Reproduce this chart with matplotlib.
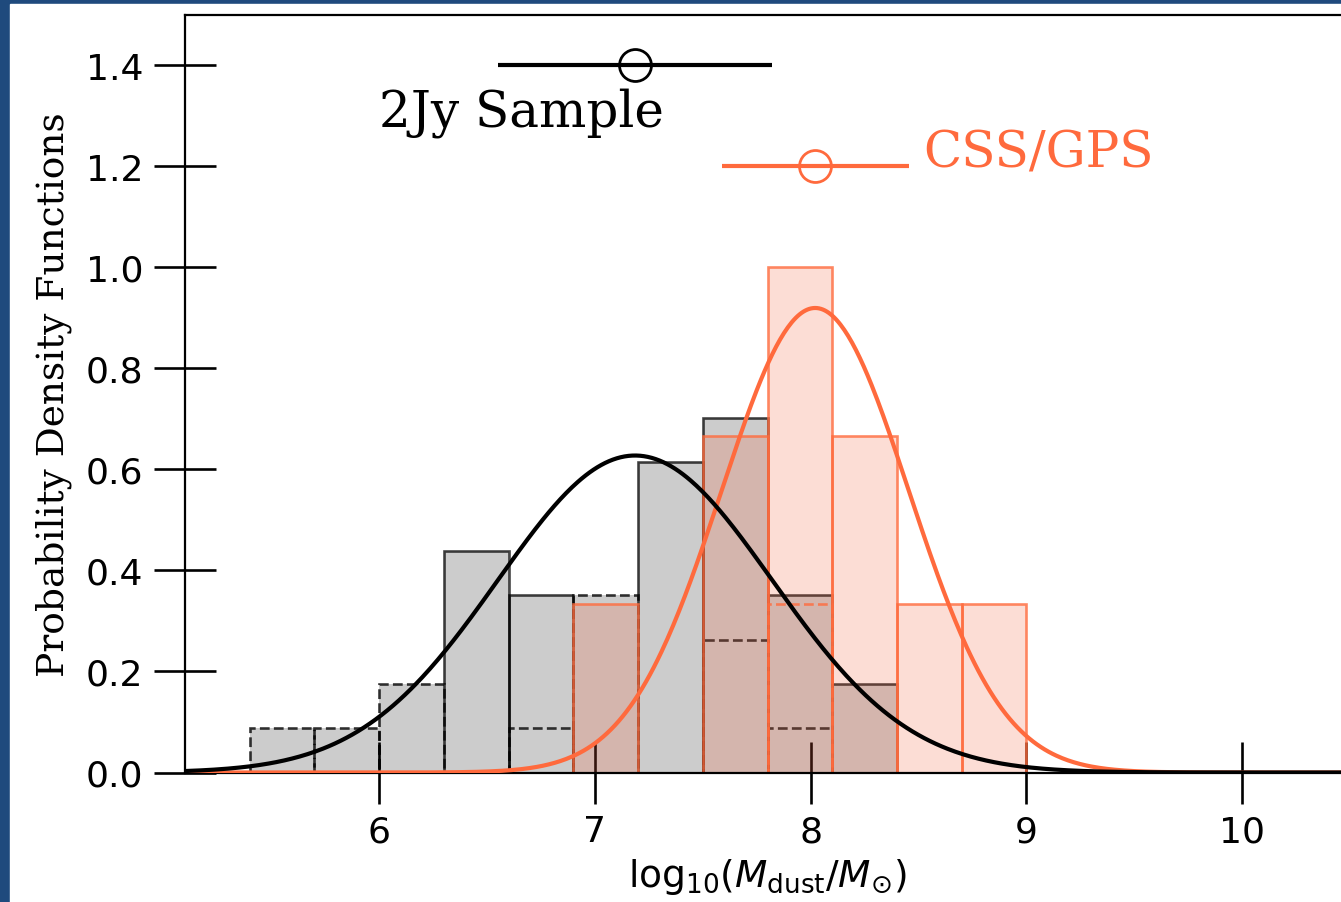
import matplotlib
matplotlib.use('Agg')
import matplotlib.pyplot as plt
import numpy as np
from matplotlib.patches import Rectangle

plt.rcParams['mathtext.fontset'] = 'dejavusans'

# ── data ──────────────────────────────────────────────────────────────────────
BIN_W = 0.3

bins_2jy          = [5.4, 5.7, 6.0, 6.3, 6.6, 6.9, 7.2, 7.5, 7.8, 8.1]
counts_2jy        = [1, 1, 2, 5, 4, 4, 7, 8, 4, 2]
counts_2jy_dashed = [1, 1, 2, 0, 1, 4, 0, 3, 1, 0]

bins_css          = [6.9, 7.2, 7.5, 7.8, 8.1, 8.4, 8.7]
counts_css        = [1, 0, 2, 3, 2, 1, 1]
counts_css_dashed = [0, 0, 0, 1, 0, 0, 0]

mean_2jy, sigma_2jy = 7.186, 0.636
mean_css, sigma_css = 8.021, 0.434

ERR_Y_2JY = 1.4
ERR_Y_CSS = 1.2

ORANGE = '#FF6A3D'
GREY   = '#CCCCCC'
EDGE_W = 1.9


def _density(counts):
    c = np.asarray(counts, dtype=float)
    return c / (np.asarray(counts).sum() * BIN_W)


def _norm_pdf(x, mu, sig):
    return np.exp(-0.5 * ((x - mu) / sig) ** 2) / (sig * np.sqrt(2 * np.pi))


fig = plt.figure(figsize=(13.41, 9.03), dpi=100, facecolor='#1F4A7D')
fig.add_artist(Rectangle((10 / 1341, 0), 1, (903 - 5) / 903,
                         transform=fig.transFigure, color='white', zorder=0))
ax = fig.add_axes([185 / 1341, 129.5 / 903, 1165 / 1341, 758 / 903])

# 2Jy histogram (grey)
h_tot = _density(counts_2jy)
h_dsh = np.asarray(counts_2jy_dashed) / (sum(counts_2jy) * BIN_W)
solid = np.asarray(counts_2jy) > np.asarray(counts_2jy_dashed)
ax.bar(bins_2jy, h_tot, width=BIN_W, align='edge', color=GREY,
       edgecolor='none', zorder=1)
ax.bar(np.asarray(bins_2jy)[solid], h_tot[solid], width=BIN_W, align='edge',
       fill=False, edgecolor=(0, 0, 0, 0.72), linewidth=EDGE_W, zorder=1.1)
nz = h_dsh > 0
ax.bar(np.asarray(bins_2jy)[nz], h_dsh[nz], width=BIN_W, align='edge',
       fill=False, edgecolor=(0, 0, 0, 0.78), linewidth=EDGE_W, linestyle='--',
       zorder=1.2)

# CSS/GPS histogram (orange)
c_tot = _density(counts_css)
c_dsh = np.asarray(counts_css_dashed) / (sum(counts_css) * BIN_W)
cz = c_tot > 0
ax.bar(np.asarray(bins_css)[cz], c_tot[cz], width=BIN_W, align='edge',
       facecolor=(245 / 255, 97 / 255, 60 / 255, 0.21),
       edgecolor=(1.0, 0.42, 0.24, 0.8), linewidth=EDGE_W, zorder=2)
dz = c_dsh > 0
ax.bar(np.asarray(bins_css)[dz], c_dsh[dz], width=BIN_W, align='edge',
       fill=False, edgecolor=(1.0, 0.42, 0.24, 0.8), linewidth=EDGE_W,
       linestyle='--', zorder=2.1)

# PDFs
xs = np.linspace(5.1, 10.5, 600)
ax.plot(xs, _norm_pdf(xs, mean_css, sigma_css), color=ORANGE, lw=3.0, zorder=3)
ax.plot(xs, _norm_pdf(xs, mean_2jy, sigma_2jy), color='black', lw=3.0, zorder=3.1)

# mean ± sigma markers
ax.errorbar(mean_2jy, ERR_Y_2JY, xerr=sigma_2jy, fmt='o', color='black',
            mfc='none', ms=23, mew=2.0, elinewidth=3.0, capsize=0, zorder=4)
ax.errorbar(mean_css, ERR_Y_CSS, xerr=sigma_css, fmt='o', color=ORANGE,
            mfc='none', ms=23, mew=2.0, elinewidth=3.0, capsize=0, zorder=4)

ax.text(6.0, 1.28, '2Jy Sample', family='DejaVu Serif', fontsize=36,
        color='black', va='baseline')
ax.text(8.52, 1.2, 'CSS/GPS', family='DejaVu Serif', fontsize=36,
        color=ORANGE, va='baseline')

ax.set_xlim(5.1, 10.5)
ax.set_ylim(0, 1.5)
ax.set_xticks([6, 7, 8, 9, 10])
ax.set_yticks([0.0, 0.2, 0.4, 0.6, 0.8, 1.0, 1.2, 1.4])
ax.set_yticklabels([f'{v:.1f}' for v in ax.get_yticks()])
ax.tick_params(direction='inout', length=44, width=1.9, labelsize=26, pad=8)

ax.set_ylabel('Probability Density Functions', family='DejaVu Serif',
              fontsize=27, labelpad=10)
ax.set_xlabel(r'$\mathrm{log}_{10}(M_{\rm dust}/M_{\odot})$', fontsize=27,
              labelpad=6)

for s in ['left', 'top', 'bottom']:
    ax.spines[s].set_linewidth(1.6)
ax.spines['right'].set_visible(False)

fig.savefig('out.png', dpi=100, facecolor=fig.get_facecolor())
